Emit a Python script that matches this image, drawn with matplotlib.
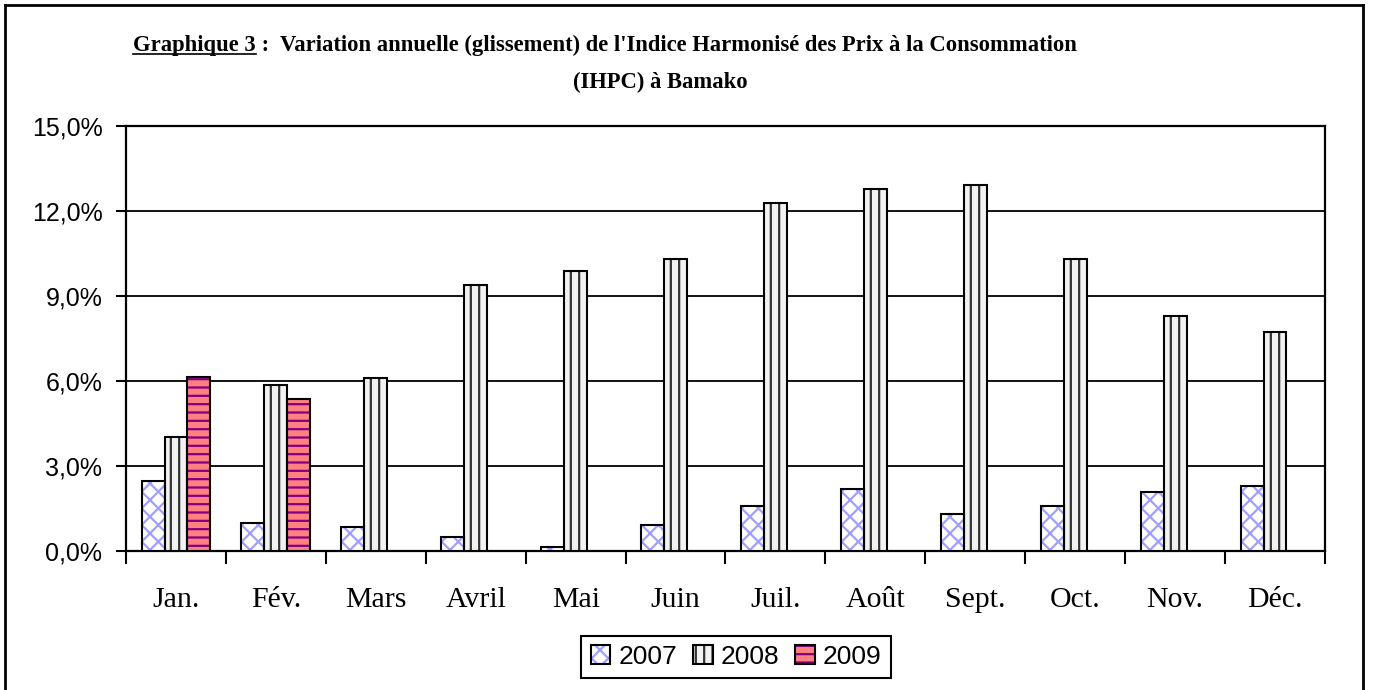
import numpy as np
import matplotlib
matplotlib.use("Agg")
import matplotlib.pyplot as plt
from matplotlib.lines import Line2D

months = ["Jan.", "Fév.", "Mars", "Avril", "Mai", "Juin",
          "Juil.", "Août", "Sept.", "Oct.", "Nov.", "Déc."]
v2007 = [2.47, 0.99, 0.85, 0.49, 0.14, 0.92, 1.59, 2.19, 1.31, 1.59, 2.08, 2.29]
v2008 = [4.02, 5.86, 6.10, 9.39, 9.88, 10.30, 12.28, 12.78, 12.92, 10.30, 8.29, 7.73]
v2009 = [6.14, 5.37]
yticks = [0, 3, 6, 9, 12, 15]

plt.rcParams['hatch.linewidth'] = 1.6

fig = plt.figure(figsize=(13.73, 6.9), dpi=100)
ax = fig.add_axes([0.0918, 0.2014, 0.8732, 0.616])

x = np.arange(len(months))
w = 0.23

def hbar(xs, vals, face, hatch, hcol):
    # hatch layer, then a black outline on top
    h = ax.bar(xs, vals, w, color=face, hatch=hatch, edgecolor=hcol, linewidth=0, zorder=3)
    o = ax.bar(xs, vals, w, fill=False, edgecolor="black", linewidth=1.5, zorder=4)
    return h[0], o[0]

p07 = hbar(x - w, v2007, "white", "xx", "#a0a0ff")
p08 = hbar(x, v2008, "#f2f2f2", "||", "#333333")
p09 = hbar(x[:len(v2009)] + w, v2009, "#ff8080", "--", "#800080")

ax.set_xlim(-0.5, len(months) - 0.5)
ax.set_ylim(0, 15)
ax.set_yticks(yticks)
ax.set_yticklabels([f"{v:.1f}%".replace(".", ",") for v in yticks],
                   fontsize=18, family="Liberation Sans")
ax.yaxis.grid(True, color="black", linewidth=1.3, zorder=0)
ax.set_axisbelow(True)

ax.set_xticks(x)
ax.set_xticklabels(months, fontsize=21.5, family="Liberation Serif")
ax.set_xticks(np.arange(len(months) + 1) - 0.5, minor=True)
ax.tick_params(axis="x", which="major", length=0, pad=26)
ax.tick_params(axis="x", which="minor", length=9, width=1.5, direction="out")
ax.tick_params(axis="y", length=7, width=1.5, direction="out", pad=10)
for s in ax.spines.values():
    s.set_linewidth(1.6)

leg = ax.legend([p07, p08, p09], ["2007", "2008", "2009"], ncol=3,
                loc="center", bbox_to_anchor=(736 / 1373, 1 - 657 / 690),
                bbox_transform=fig.transFigure,
                prop={"family": "Liberation Sans", "size": 19},
                frameon=True, fancybox=False, edgecolor="black", framealpha=1,
                handlelength=0.75, handleheight=0.75, handletextpad=0.3,
                columnspacing=0.6, borderpad=0.35)
leg.get_frame().set_linewidth(1.5)

# outer frame (bottom edge falls outside the picture)
fig.add_artist(Line2D([0.004, 0.004], [0, 0.993], color="black", lw=2))
fig.add_artist(Line2D([0.004, 0.993], [0.993, 0.993], color="black", lw=2))
fig.add_artist(Line2D([0.993, 0.993], [0, 0.993], color="black", lw=2))

# title with underlined "Graphique 3"
tfont = {"family": "Liberation Serif", "weight": "bold", "size": 16.3}
t1 = fig.text(133 / 1373, 1 - 45 / 690, "Graphique 3", va="center", ha="left", **tfont)
fig.canvas.draw()
r = fig.canvas.get_renderer()
bb = t1.get_window_extent(r).transformed(fig.transFigure.inverted())
fig.text(bb.x1, 1 - 45 / 690, " :  Variation annuelle (glissement) de l'Indice Harmonisé des Prix à la Consommation",
         va="center", ha="left", **tfont)
fig.add_artist(Line2D([bb.x0, bb.x1], [bb.y0 + 0.002, bb.y0 + 0.002], color="black", lw=1.2))
fig.text(660 / 1373, 1 - 82 / 690, "(IHPC) à Bamako", va="center", ha="center", **tfont)

fig.savefig("out.png", dpi=100)
